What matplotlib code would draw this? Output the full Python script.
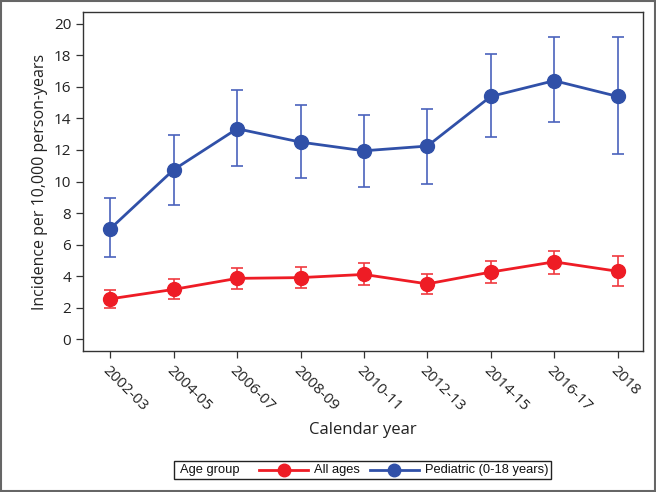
import matplotlib.pyplot as plt
from matplotlib import font_manager
from matplotlib.lines import Line2D
from matplotlib.patches import Rectangle

# Data
years = ['2002-03', '2004-05', '2006-07', '2008-09', '2010-11',
         '2012-13', '2014-15', '2016-17', '2018']

all_ages = [2.55, 3.15, 3.85, 3.9, 4.1, 3.5, 4.25, 4.9, 4.3]
all_ages_lo = [2.0, 2.55, 3.2, 3.25, 3.4, 2.85, 3.55, 4.15, 3.35]
all_ages_hi = [3.1, 3.8, 4.5, 4.6, 4.8, 4.15, 4.95, 5.6, 5.3]

pediatric = [7.0, 10.75, 13.35, 12.5, 11.95, 12.25, 15.4, 16.4, 15.4]
pediatric_lo = [5.2, 8.5, 11.0, 10.2, 9.65, 9.85, 12.85, 13.75, 11.75]
pediatric_hi = [8.95, 12.95, 15.8, 14.85, 14.25, 14.6, 18.1, 19.15, 19.15]

legend_title = 'Age group'
series_names = ['All ages', 'Pediatric (0-18 years)']

red = '#ee1c25'
blue = '#3050a8'
blue_err = '#4a62bc'
red_err = '#f03a40'

plt.rcParams['font.family'] = ['Open Sans', 'DejaVu Sans']

# narrow font for the legend if there is one
names = {f.name for f in font_manager.fontManager.ttflist}
leg_font = 'Liberation Sans Narrow' if 'Liberation Sans Narrow' in names else 'Liberation Sans'
leg_size = 10.5 if leg_font == 'Liberation Sans Narrow' else 9.3

W, H = 656, 492
fig = plt.figure(figsize=(W / 100, H / 100), dpi=100)
ax = fig.add_axes([83 / W, 1 - 351 / H, 560 / W, 339 / H])

x = list(range(len(years)))

def draw(vals, lo, hi, col, ecol):
    yerr = [[v - l for v, l in zip(vals, lo)], [h - v for v, h in zip(vals, hi)]]
    ax.errorbar(x, vals, yerr=yerr, fmt='none', ecolor=ecol, elinewidth=1.2,
                capsize=4.5, capthick=1.2, zorder=2)
    ax.plot(x, vals, color=col, lw=2, marker='o', ms=10, zorder=3)

draw(pediatric, pediatric_lo, pediatric_hi, blue, blue_err)
draw(all_ages, all_ages_lo, all_ages_hi, red, red_err)

ax.set_xlim(-0.43, 8.4)
ax.set_ylim(-0.76, 20.76)
ax.set_yticks(range(0, 21, 2))
ax.set_xticks(x)
ax.set_xticklabels(years, rotation=-45, ha='left', va='top',
                   rotation_mode='anchor')
ax.tick_params(labelsize=11, color='#333333', length=5, width=0.9,
               labelcolor='#222222')
for s in ax.spines.values():
    s.set_color('#333333')
    s.set_linewidth(1.0)

ax.set_ylabel('Incidence per 10,000 person-years', fontsize=11.5, color='#222222')
ax.set_xlabel('Calendar year', fontsize=12, color='#222222', labelpad=6)

# legend drawn in pixel positions (title inline, like the reference)
def fx(px):
    return px / W

def fy(py):
    return 1 - py / H

yc = 470
fig.patches.append(Rectangle((fx(174), fy(479)), fx(551) - fx(174), fy(461) - fy(479),
                             transform=fig.transFigure, fill=False,
                             edgecolor='#222222', lw=1.0))
fig.text(fx(180), fy(yc), legend_title, ha='left', va='center',
         family=leg_font, fontsize=leg_size, color='#111111')
for (x0, x1, xt), col, name in zip([(259, 308, 314), (370, 419, 425)],
                                   [red, blue], series_names):
    fig.lines.append(Line2D([fx(x0), fx(x1)], [fy(yc), fy(yc)], color=col, lw=2,
                            transform=fig.transFigure))
    fig.lines.append(Line2D([fx((x0 + x1) / 2)], [fy(yc)], color=col, marker='o', ms=9,
                            transform=fig.transFigure))
    fig.text(fx(xt), fy(yc), name, ha='left', va='center',
             family=leg_font, fontsize=leg_size, color='#111111')

# outer frame of the figure
fig.patches.append(Rectangle((0.002, 0.003), 0.996, 0.994, transform=fig.transFigure,
                             fill=False, edgecolor='#666666', lw=1.5))

fig.savefig('out.png', dpi=100)
